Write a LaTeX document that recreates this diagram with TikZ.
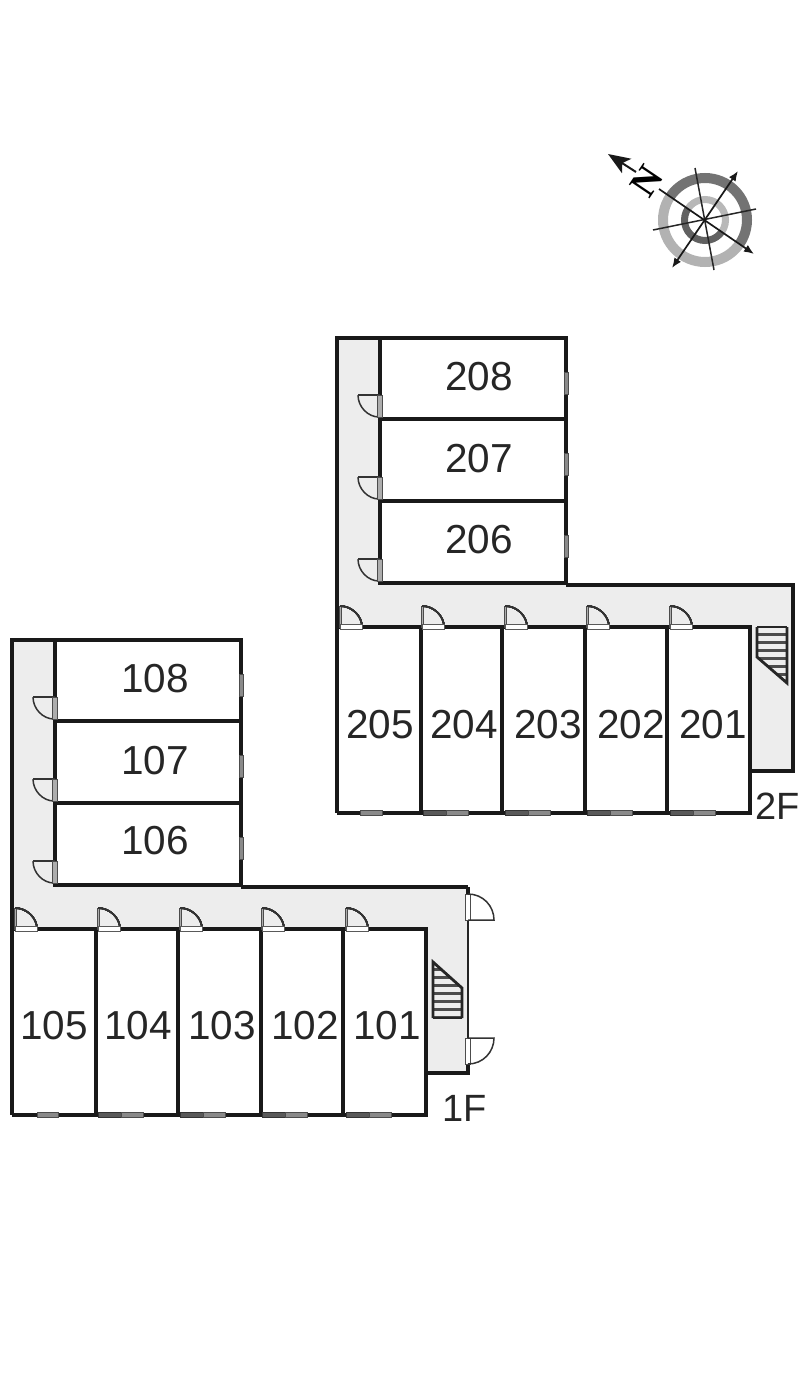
\documentclass[tikz,border=0pt]{standalone}
\usepackage{fontspec}
\setmainfont{Liberation Sans}
\newfontfamily\nfont{Liberation Serif}
\usetikzlibrary{arrows.meta}
\definecolor{hall}{HTML}{EDEDED}
\definecolor{leaf}{HTML}{8A8A8A}
\tikzset{
  wall/.style={draw=black!90,line width=3.6pt,line join=miter},
  thinwall/.style={draw=black!85,line width=2.6pt},
  roomlabel/.style={font=\fontsize{40.5}{40.5}\selectfont,text=black!85,inner sep=0pt},
  floorlabel/.style={font=\fontsize{38}{38}\selectfont,text=black!85,inner sep=0pt},
  doorarc/.style={draw=black!80,line width=1.5pt},
  doorleaf/.style={draw=black!70,fill=leaf!70,line width=1pt},
  doorsill/.style={draw=black!65,fill=white,line width=1pt},
  glass/.style={draw=black!70,fill=leaf,line width=.8pt},
  glassdark/.style={draw=black!80,fill=black!65,line width=.8pt},
  treads/.style={draw=black!70,line width=3pt},
  stairedge/.style={draw=black!85,line width=2.8pt,line join=miter},
  thinaxis/.style={draw=black!85,line width=1.5pt},
  axis/.style={draw=black!90,line width=1.7pt},
}
% door on the left side of a room wall: wall at x=#1, lower end at y=#2
\newcommand{\sidedoor}[2]{%
  \draw[doorarc] (#1-22,#2-22) -- (#1,#2-22);
  \draw[doorarc] (#1-22,#2-22) .. controls (#1-22,#2-10) and (#1-12,#2) .. (#1-1,#2);
  \draw[doorleaf] (#1-2.5,#2-22) rectangle (#1+2.5,#2);
}
% door above a horizontal wall: hinge x=#1, wall y=#2
\newcommand{\topdoor}[2]{%
  \draw[doorleaf] (#1-1,#2-21) rectangle (#1+1,#2);
  \draw[doorarc] (#1,#2-21) .. controls (#1+12,#2-21) and (#1+22,#2-11) .. (#1+22,#2);
  \draw[doorsill] (#1,#2-2.5) rectangle (#1+22,#2+2);
}
% glass on right wall
\newcommand{\sidewin}[2]{\draw[glass] (#1-2,#2) rectangle (#1+2,#2+22);}
% balcony window pair at bottom wall
\newcommand{\botwin}[2]{%
  \draw[glassdark] (#1,#2-2.5) rectangle (#1+23,#2+2.5);
  \draw[glass] (#1+23,#2-3) rectangle (#1+45,#2+2);
}
\begin{document}
\begin{tikzpicture}[x=1pt,y=-1pt]
\useasboundingbox (0,0) rectangle (800,1381);
\fill[white] (0,0) rectangle (800,1381);

%================ 2F ================
\fill[hall] (337,338) -- (380,338) -- (380,583) -- (793,585) -- (793,771) -- (750,771) -- (750,627) -- (337,627) -- cycle;
\draw[wall] (380,338) -- (337,338) -- (337,813);
\draw[wall] (380,338) rectangle (566,583);
\draw[wall] (380,419) -- (566,419);
\draw[wall] (380,501) -- (566,501);
\draw[wall] (566,585) -- (793,585) -- (793,771) -- (750,771);
\draw[wall] (337,627) -- (750,627) -- (750,813) -- (337,813);
\foreach \xx in {421,502,585,667} \draw[wall] (\xx,627) -- (\xx,813);
\foreach \yy in {417,499,581} \sidedoor{380}{\yy}
\foreach \yy in {372,453,535} \sidewin{566}{\yy}
\foreach \xx in {340,422,505,587,670} \topdoor{\xx}{627}
\foreach \xx in {423,505,587,670} \botwin{\xx}{813}
\draw[glass] (360,810) rectangle (382,815);
% stairs 2F
\begin{scope}
  \clip (757,627) -- (787,627) -- (787,683) -- (757,657) -- cycle;
  \foreach \yy in {634,642,650,658,666,674,682} \draw[treads] (755,\yy) -- (790,\yy);
\end{scope}
\draw[stairedge] (787,627) -- (787,683) -- (757,657) -- (757,627);
\draw[stairedge,line width=1.4pt] (757,627) -- (787,627);

\node[roomlabel] (r208) at (479,377) {208};
\node[roomlabel] (r207) at (479,459) {207};
\node[roomlabel] (r206) at (479,540) {206};
\node[roomlabel] (r205) at (380,725) {205};
\node[roomlabel] (r204) at (464,725) {204};
\node[roomlabel] (r203) at (548,725) {203};
\node[roomlabel] (r202) at (631,725) {202};
\node[roomlabel] (r201) at (713,725) {201};
\node[floorlabel] (f2) at (777.5,806) {2F};

%================ 1F ================
\fill[hall] (12,640) -- (55,640) -- (55,885) -- (468,887) -- (468,1073) -- (426,1073) -- (426,929) -- (12,929) -- cycle;
\draw[wall] (55,640) -- (12,640) -- (12,1115);
\draw[wall] (55,640) rectangle (241,885);
\draw[wall] (55,721) -- (241,721);
\draw[wall] (55,803) -- (241,803);
\draw[wall] (241,887) -- (468,887);
\draw[wall] (468,887) -- (468,894);
\draw[thinwall] (468,920) -- (468,1038);
\draw[wall] (468,1064) -- (468,1073) -- (426,1073);
\draw[wall] (12,929) -- (426,929) -- (426,1115) -- (12,1115);
\foreach \xx in {96,178,261,343} \draw[wall] (\xx,929) -- (\xx,1115);
\foreach \yy in {719,801,883} \sidedoor{55}{\yy}
\foreach \yy in {674,755,837} \sidewin{241}{\yy}
\foreach \xx in {15,98,180,262,346} \topdoor{\xx}{929}
\foreach \xx in {98,180,262,346} \botwin{\xx}{1115}
\draw[glass] (37,1112) rectangle (58,1117);
% doors on the outer wall, 1F
\draw[doorleaf,fill=white] (465.5,894) rectangle (470.5,920);
\draw[doorarc] (468,920) -- (494,920) .. controls (494,906) and (483,894) .. (468,894);
\draw[doorleaf,fill=white] (465.5,1038) rectangle (470.5,1064);
\draw[doorarc] (468,1038) -- (494,1038) .. controls (494,1052) and (483,1064) .. (468,1064);
% stairs 1F
\begin{scope}
  \clip (433,962) -- (462,988) -- (462,1018) -- (433,1018) -- cycle;
  \foreach \yy in {969,977,985,993,1001,1009,1017} \draw[treads] (431,\yy) -- (464,\yy);
\end{scope}
\draw[stairedge] (462,1018) -- (462,988) -- (433,962) -- (433,1018);
\draw[stairedge,line width=1.4pt] (433,1018) -- (462,1018);

\node[roomlabel] (r108) at (155,679) {108};
\node[roomlabel] (r107) at (155,761) {107};
\node[roomlabel] (r106) at (155,841) {106};
\node[roomlabel] (r105) at (54,1026) {105};
\node[roomlabel] (r104) at (138,1026) {104};
\node[roomlabel] (r103) at (222,1026) {103};
\node[roomlabel] (r102) at (305,1026) {102};
\node[roomlabel] (r101) at (387,1026) {101};
\node[floorlabel] (f1) at (465,1108) {1F};

%================ compass ================
\coordinate (cc) at (705,220);
\begin{scope}
  \clip (cc) ++(-100,-68) -- ++(200,136) -- ++(-200,60) -- ++(-40,-200) -- cycle;
  \draw[black!30,line width=10pt] (cc) circle[radius=42];
  \draw[black!62,line width=7pt] (cc) circle[radius=20.5];
\end{scope}
\begin{scope}
  \clip (cc) ++(-100,-68) -- ++(200,136) -- ++(60,-200) -- ++(-200,-40) -- cycle;
  \draw[black!55,line width=10pt] (cc) circle[radius=42];
  \draw[black!28,line width=7pt] (cc) circle[radius=20.5];
\end{scope}
\coordinate (a1) at (695,168);
\coordinate (a2) at (714,270);
\coordinate (b1) at (653,230);
\coordinate (b2) at (756,209);
\coordinate (c1) at (659,189);
\coordinate (c2) at (754,254);
\coordinate (d1) at (672,268);
\coordinate (d2) at (738,171);
\coordinate (n1) at (636,172);
\coordinate (n2) at (608,154);
\draw[thinaxis] (a1) -- (a2);
\draw[thinaxis] (b1) -- (b2);
\draw[axis,-{Latex[length=10pt,width=8pt]}] (c1) -- (c2);
\draw[axis,{Latex[length=10pt,width=8pt]}-{Latex[length=10pt,width=8pt]}] (d1) -- (d2);
\draw[axis,line width=2pt,-{Stealth[length=22pt,width=17pt,inset=5pt]}] (n1) -- (n2);
\node[font=\nfont\bfseries\fontsize{38}{38}\selectfont,rotate=56,inner sep=0pt] (north) at (647,181) {N};
\end{tikzpicture}
\end{document}
